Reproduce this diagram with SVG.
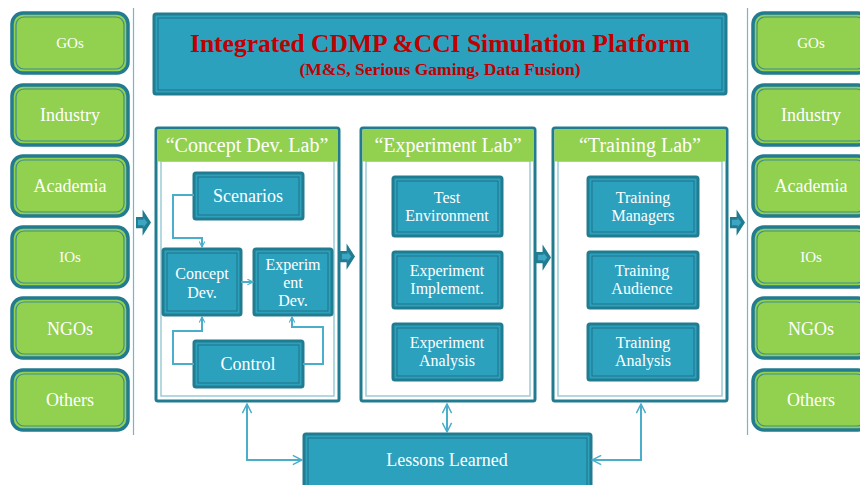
<svg xmlns="http://www.w3.org/2000/svg" width="860" height="485" viewBox="0 0 860 485">
<defs>
<marker id="ah" viewBox="0 0 10 10" refX="9" refY="5" markerWidth="7" markerHeight="7" orient="auto-start-reverse" markerUnits="userSpaceOnUse">
<path d="M1,1 L9,5 L1,9" fill="none" stroke="#4aaecb" stroke-width="1.6"/>
</marker>
<marker id="ah2" viewBox="0 0 12 12" refX="11" refY="6" markerWidth="11" markerHeight="11" orient="auto-start-reverse" markerUnits="userSpaceOnUse">
<path d="M1,1 L11,6 L1,11" fill="none" stroke="#4aaecb" stroke-width="1.6"/>
</marker>
<symbol id="chev" viewBox="0 0 16 28">
<path d="M0,8 H7 V0 L16,14 L7,28 V20 H0 Z" fill="#217c91"/>
<path d="M2,11 H8 V9 L12,14 L8,19 V17 H2 Z" fill="#3da6c2"/>
</symbol>
</defs>
<style>
text{font-family:"Liberation Serif","DejaVu Serif",serif;fill:#ffffff;text-anchor:middle}
.g{fill:#92d050;stroke:#237b90;stroke-width:3.5}
.gi{fill:none;stroke:#3f8e8e;stroke-width:1.2}
.t{fill:#2ca1be;stroke:#227c90;stroke-width:3}
.ti{fill:none;stroke:#1e7287;stroke-width:1}
.lab{fill:#ffffff;stroke:#227c90;stroke-width:3}
.labi{fill:none;stroke:#9ccbd6;stroke-width:1.5}
.hdr{fill:#92d050}
.gt{font-size:18px}
.st{font-size:15px}
.bt{font-size:16px}
.ht{font-size:20px}
.c{fill:none;stroke:#4aaecb;stroke-width:2}
.sep{stroke:#6fb8cf;stroke-width:1.2}
</style>

<line class="sep" x1="133.5" y1="8" x2="133.5" y2="435"/>
<line class="sep" x1="747.5" y1="8" x2="747.5" y2="435"/>

<g id="left-gos"><rect class="g" x="12" y="13" width="116" height="60" rx="11"/><rect class="gi" x="16" y="17" width="108" height="52" rx="8"/><text class="st" x="70" y="48">GOs</text></g>
<g id="left-industry"><rect class="g" x="12" y="85" width="116" height="60" rx="11"/><rect class="gi" x="16" y="89" width="108" height="52" rx="8"/><text class="gt" x="70" y="121">Industry</text></g>
<g id="left-academia"><rect class="g" x="12" y="156" width="116" height="60" rx="11"/><rect class="gi" x="16" y="160" width="108" height="52" rx="8"/><text class="gt" x="70" y="192">Academia</text></g>
<g id="left-ios"><rect class="g" x="12" y="227" width="116" height="60" rx="11"/><rect class="gi" x="16" y="231" width="108" height="52" rx="8"/><text class="st" x="70" y="262">IOs</text></g>
<g id="left-ngos"><rect class="g" x="12" y="298" width="116" height="60" rx="11"/><rect class="gi" x="16" y="302" width="108" height="52" rx="8"/><text class="gt" x="70" y="335">NGOs</text></g>
<g id="left-others"><rect class="g" x="12" y="370" width="116" height="60" rx="11"/><rect class="gi" x="16" y="374" width="108" height="52" rx="8"/><text class="gt" x="70" y="406">Others</text></g>

<g id="right-gos"><rect class="g" x="753" y="13" width="116" height="60" rx="11"/><rect class="gi" x="757" y="17" width="108" height="52" rx="8"/><text class="st" x="811" y="48">GOs</text></g>
<g id="right-industry"><rect class="g" x="753" y="85" width="116" height="60" rx="11"/><rect class="gi" x="757" y="89" width="108" height="52" rx="8"/><text class="gt" x="811" y="121">Industry</text></g>
<g id="right-academia"><rect class="g" x="753" y="156" width="116" height="60" rx="11"/><rect class="gi" x="757" y="160" width="108" height="52" rx="8"/><text class="gt" x="811" y="192">Academia</text></g>
<g id="right-ios"><rect class="g" x="753" y="227" width="116" height="60" rx="11"/><rect class="gi" x="757" y="231" width="108" height="52" rx="8"/><text class="st" x="811" y="262">IOs</text></g>
<g id="right-ngos"><rect class="g" x="753" y="298" width="116" height="60" rx="11"/><rect class="gi" x="757" y="302" width="108" height="52" rx="8"/><text class="gt" x="811" y="335">NGOs</text></g>
<g id="right-others"><rect class="g" x="753" y="370" width="116" height="60" rx="11"/><rect class="gi" x="757" y="374" width="108" height="52" rx="8"/><text class="gt" x="811" y="406">Others</text></g>

<g id="title"><rect class="t" x="154" y="14" width="572" height="80" rx="2"/><rect class="ti" x="158" y="18" width="564" height="72"/>
<text x="440" y="52" style="font-size:25.5px;font-weight:bold;fill:#c00000">Integrated CDMP &amp;CCI Simulation Platform</text>
<text x="440" y="75" style="font-size:17.5px;font-weight:bold;fill:#c00000">(M&amp;S, Serious Gaming, Data Fusion)</text></g>

<g id="concept-lab"><rect class="lab" x="156" y="128" width="183" height="273" rx="2"/><rect class="labi" x="161" y="161" width="173" height="235"/><rect class="hdr" x="157.5" y="129.5" width="180" height="32"/><text class="ht" x="247" y="152">“Concept Dev. Lab”</text></g>
<g id="experiment-lab"><rect class="lab" x="361" y="128" width="174" height="273" rx="2"/><rect class="labi" x="366" y="161" width="164" height="235"/><rect class="hdr" x="362.5" y="129.5" width="171" height="32"/><text class="ht" x="448" y="152">“Experiment Lab”</text></g>
<g id="training-lab"><rect class="lab" x="553" y="128" width="174" height="273" rx="2"/><rect class="labi" x="558" y="161" width="164" height="235"/><rect class="hdr" x="554.5" y="129.5" width="171" height="32"/><text class="ht" x="640" y="152">“Training Lab”</text></g>

<g id="scenarios"><rect class="t" x="194" y="173" width="109" height="46" rx="2"/><rect class="ti" x="198" y="177" width="101" height="38"/><text class="gt" x="248" y="202">Scenarios</text></g>
<g id="concept-dev"><rect class="t" x="163" y="249" width="78" height="66" rx="2"/><rect class="ti" x="167" y="253" width="70" height="58"/><text class="bt" x="202" y="279">Concept</text><text class="bt" x="202" y="298">Dev.</text></g>
<g id="experiment-dev"><rect class="t" x="254" y="249" width="78" height="66" rx="2"/><rect class="ti" x="258" y="253" width="70" height="58"/><text class="bt" x="293" y="270">Experim</text><text class="bt" x="293" y="288">ent</text><text class="bt" x="293" y="306">Dev.</text></g>
<g id="control"><rect class="t" x="194" y="341" width="109" height="46" rx="2"/><rect class="ti" x="198" y="345" width="101" height="38"/><text class="gt" x="248" y="370">Control</text></g>

<g id="test-environment"><rect class="t" x="393" y="177" width="109" height="59" rx="2"/><rect class="ti" x="397" y="181" width="101" height="51"/><text class="bt" x="447" y="203">Test</text><text class="bt" x="447" y="221">Environment</text></g>
<g id="experiment-implement"><rect class="t" x="393" y="252" width="109" height="56" rx="2"/><rect class="ti" x="397" y="256" width="101" height="48"/><text class="bt" x="447" y="276">Experiment</text><text class="bt" x="447" y="294">Implement.</text></g>
<g id="experiment-analysis"><rect class="t" x="393" y="324" width="109" height="56" rx="2"/><rect class="ti" x="397" y="328" width="101" height="48"/><text class="bt" x="447" y="348">Experiment</text><text class="bt" x="447" y="366">Analysis</text></g>

<g id="training-managers"><rect class="t" x="588" y="177" width="110" height="59" rx="2"/><rect class="ti" x="592" y="181" width="102" height="51"/><text class="bt" x="643" y="203">Training</text><text class="bt" x="643" y="221">Managers</text></g>
<g id="training-audience"><rect class="t" x="588" y="252" width="110" height="56" rx="2"/><rect class="ti" x="592" y="256" width="102" height="48"/><text class="bt" x="642" y="276">Training</text><text class="bt" x="642" y="294">Audience</text></g>
<g id="training-analysis"><rect class="t" x="588" y="324" width="110" height="56" rx="2"/><rect class="ti" x="592" y="328" width="102" height="48"/><text class="bt" x="643" y="348">Training</text><text class="bt" x="643" y="366">Analysis</text></g>

<g id="lessons-learned"><rect class="t" x="304" y="434" width="287" height="56" rx="2"/><rect class="ti" x="308" y="438" width="279" height="50"/><text class="gt" x="447" y="466">Lessons Learned</text></g>

<g id="connectors">
<use href="#chev" x="136" y="209" width="15" height="27"/>
<use href="#chev" x="340" y="243" width="15" height="27"/>
<use href="#chev" x="536" y="244" width="15" height="27"/>
<use href="#chev" x="730" y="209" width="15" height="27"/>
<path class="c" d="M194,195 H173 V238 H202 V247" marker-end="url(#ah)"/>
<path class="c" d="M241,282 H253" marker-end="url(#ah)"/>
<path class="c" d="M194,364 H173 V331 H202 V317" marker-end="url(#ah)"/>
<path class="c" d="M303,364 H323 V327 H292 V317" marker-end="url(#ah)"/>
<path class="c" d="M247,404 V460 H302" marker-start="url(#ah2)" marker-end="url(#ah2)"/>
<path class="c" d="M447,404 V432" marker-start="url(#ah2)" marker-end="url(#ah2)"/>
<path class="c" d="M641,404 V460 H592" marker-start="url(#ah2)" marker-end="url(#ah2)"/>
</g>
</svg>
